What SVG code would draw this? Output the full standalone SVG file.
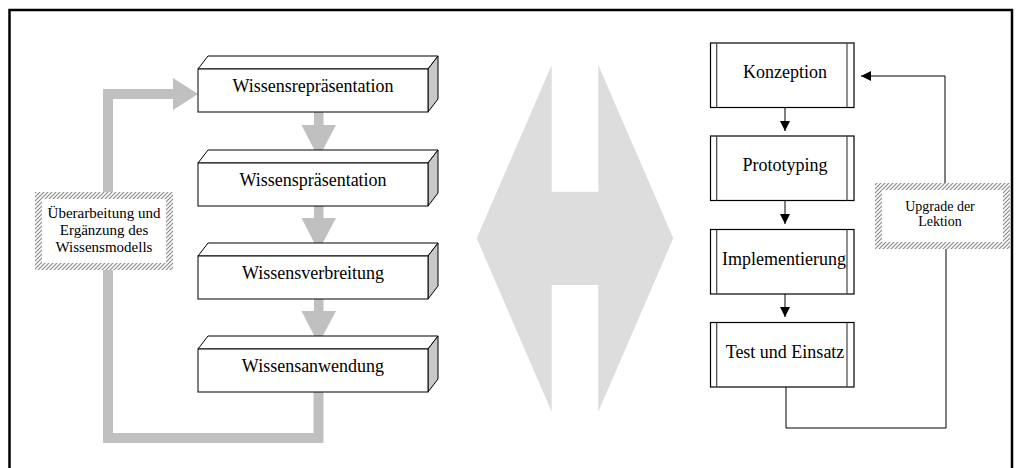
<svg xmlns="http://www.w3.org/2000/svg" width="1021" height="468" viewBox="0 0 1021 468">
  <defs>
    <pattern id="hatch" patternUnits="userSpaceOnUse" width="4" height="4">
      <rect width="4" height="4" fill="#ffffff"/>
      <path d="M-1,1 L1,-1 M0,4 L4,0 M3,5 L5,3" stroke="#8c8c8c" stroke-width="1.2"/>
    </pattern>
    <marker id="tri" viewBox="0 0 10 10" refX="10" refY="5" markerWidth="10" markerHeight="10" markerUnits="userSpaceOnUse" orient="auto">
      <path d="M0,0 L10,5 L0,10 Z" fill="#000"/>
    </marker>
  </defs>
  <style>
    .t { font-family: "Liberation Serif", "Times New Roman", serif; fill: #000; text-anchor: middle; }
    .big { font-size: 18px; }
    .lab { font-size: 15px; }
    .sm { font-size: 14px; }
    .face { fill: #ffffff; stroke: #000; stroke-width: 1; }
    .side { fill: #c8c8c8; stroke: #000; stroke-width: 1; }
    .proc { fill: #ffffff; stroke: #000; stroke-width: 1.2; }
    .bar { stroke: #444; stroke-width: 1.2; }
    .gray { fill: #c0c0c0; }
    .ln { fill: none; stroke: #000; stroke-width: 1; }
  </style>

  <rect width="1021" height="468" fill="#ffffff"/>

  <!-- outer frame -->
  <path d="M9.5,470 V10 H1012 V470" fill="none" stroke="#000" stroke-width="2.5"/>

  <!-- central double arrow -->
  <polygon id="exchange" points="551.7,65 551.7,191.7 598.3,191.7 598.3,65 673.3,238.3 598.3,411.7 598.3,285 551.7,285 551.7,411.7 476.7,238.3" fill="#dddddd"/>

  <!-- connectors -->
  <g id="connectors">
    <!-- feedback loop, left column -->
    <path d="M318.5,392 V438 H108 V94 H174" fill="none" stroke="#c0c0c0" stroke-width="10"/>
    <polygon class="gray" points="173,78 198,94 173,110"/>
    <!-- downward arrows, left column -->
    <rect class="gray" x="314" y="112" width="9.5" height="14"/>
    <polygon class="gray" points="301.5,125 336,125 318.5,158"/>
    <rect class="gray" x="314" y="206" width="9.5" height="13"/>
    <polygon class="gray" points="301.5,218 336,218 318.5,251"/>
    <rect class="gray" x="314" y="299" width="9.5" height="13"/>
    <polygon class="gray" points="301.5,311 336,311 318.5,344"/>

    <!-- right column flow -->
    <path class="ln" d="M785,107.5 V131" marker-end="url(#tri)" />
    <path class="ln" d="M785,200.5 V224" marker-end="url(#tri)" />
    <path class="ln" d="M785,294 V317" marker-end="url(#tri)" />
    <!-- return loop, right column -->
    <path class="ln" d="M786,387 V428 H946 V249"/>
    <path class="ln" d="M945,183 V76 H861" marker-end="url(#tri)"/>
  </g>

  <!-- left column: 3D boxes -->
  <g id="n-repraesentation">
    <polygon class="face" points="198,69 208,56 438,56 428,69"/>
    <polygon class="side" points="428,69 438,56 438,99 428,112"/>
    <rect class="face" x="198" y="69" width="230" height="43"/>
    <text class="t big" x="313" y="91.5">Wissensrepräsentation</text>
  </g>
  <g id="n-praesentation">
    <polygon class="face" points="198,163 208,150 438,150 428,163"/>
    <polygon class="side" points="428,163 438,150 438,193 428,206"/>
    <rect class="face" x="198" y="163" width="230" height="43"/>
    <text class="t big" x="313" y="185.5">Wissenspräsentation</text>
  </g>
  <g id="n-verbreitung">
    <polygon class="face" points="198,256 208,243 438,243 428,256"/>
    <polygon class="side" points="428,256 438,243 438,286 428,299"/>
    <rect class="face" x="198" y="256" width="230" height="43"/>
    <text class="t big" x="313" y="278.5">Wissensverbreitung</text>
  </g>
  <g id="n-anwendung">
    <polygon class="face" points="198,349 208,336 438,336 428,349"/>
    <polygon class="side" points="428,349 438,336 438,379 428,392"/>
    <rect class="face" x="198" y="349" width="230" height="43"/>
    <text class="t big" x="313" y="371.5">Wissensanwendung</text>
  </g>

  <!-- left column: loop label -->
  <g id="n-ueberarbeitung">
    <rect x="35" y="192" width="138" height="78" fill="url(#hatch)"/>
    <rect x="42" y="199" width="124" height="64" fill="#ffffff"/>
    <text class="t lab" x="104" y="218">Überarbeitung und</text>
    <text class="t lab" x="104" y="235">Ergänzung des</text>
    <text class="t lab" x="104" y="252">Wissensmodells</text>
  </g>

  <!-- right column: process boxes -->
  <g id="n-konzeption">
    <rect class="proc" x="710.5" y="43" width="143.5" height="64.5"/>
    <line class="bar" x1="716.7" y1="43" x2="716.7" y2="107.5"/>
    <line class="bar" x1="847" y1="43" x2="847" y2="107.5"/>
    <text class="t big" x="785" y="78">Konzeption</text>
  </g>
  <g id="n-prototyping">
    <rect class="proc" x="710.5" y="136" width="143.5" height="64.5"/>
    <line class="bar" x1="716.7" y1="136" x2="716.7" y2="200.5"/>
    <line class="bar" x1="847" y1="136" x2="847" y2="200.5"/>
    <text class="t big" x="785" y="171">Prototyping</text>
  </g>
  <g id="n-implementierung">
    <rect class="proc" x="710.5" y="229.5" width="143.5" height="64.5"/>
    <line class="bar" x1="716.7" y1="229.5" x2="716.7" y2="294"/>
    <line class="bar" x1="847" y1="229.5" x2="847" y2="294"/>
    <text class="t big" x="784" y="265">Implementierung</text>
  </g>
  <g id="n-test">
    <rect class="proc" x="710.5" y="322.5" width="143.5" height="64.5"/>
    <line class="bar" x1="716.7" y1="322.5" x2="716.7" y2="387"/>
    <line class="bar" x1="847" y1="322.5" x2="847" y2="387"/>
    <text class="t big" x="785" y="358">Test und Einsatz</text>
  </g>

  <!-- right column: loop label -->
  <g id="n-upgrade">
    <rect x="875" y="183" width="135" height="66" fill="url(#hatch)"/>
    <rect x="882" y="190" width="121" height="52" fill="#ffffff"/>
    <text class="t sm" x="940" y="210.5">Upgrade der</text>
    <text class="t sm" x="940" y="226">Lektion</text>
  </g>
</svg>
